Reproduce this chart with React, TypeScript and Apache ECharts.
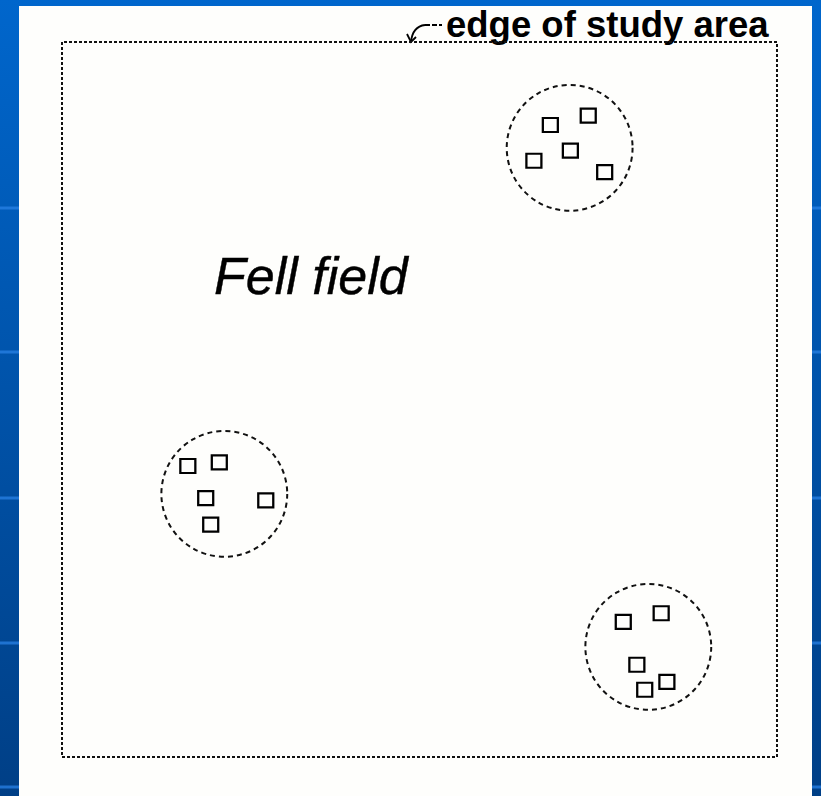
import React, { useEffect, useRef } from "react";
import * as echarts from "echarts";

// Study area is a 100 x 100 unit square
const studyAreaX = [0, 100, 100, 0, 0];
const studyAreaY = [0, 0, 100, 100, 0];

// Vegetation patches (circles)
const patchNames = ["NE patch", "W patch", "SE patch"];
const patchX = [71.0, 22.7, 82.0];
const patchY = [85.2, 36.8, 15.4];
const patchRadius = [8.8, 8.8, 8.8];

// Sample plots (squares)
const plotX = [68.3, 73.6, 71.1, 66.0, 75.9, 17.6, 22.0, 20.1, 28.5, 20.8, 78.5, 83.8, 80.4, 84.6, 81.5];
const plotY = [88.4, 89.7, 84.8, 83.4, 81.8, 40.7, 41.2, 36.2, 35.9, 32.5, 18.9, 20.1, 12.9, 10.5, 9.4];

const areaLabel = "Fell field";
const edgeLabel = "edge of study area";

export default function App() {
  const ref = useRef<HTMLDivElement>(null);

  useEffect(() => {
    if (!ref.current) return;
    const chart = echarts.init(ref.current, undefined, { renderer: "svg" });

    const stripeYs = [208, 352, 498, 643, 787];
    const stripes: any[] = [];
    stripeYs.forEach((y) => {
      stripes.push({ type: "rect", z: -9, shape: { x: 0, y: y - 1.5, width: 19, height: 3 }, style: { fill: "rgba(40,130,230,0.75)" } });
      stripes.push({ type: "rect", z: -9, shape: { x: 812, y: y - 1.5, width: 9, height: 3 }, style: { fill: "rgba(40,130,230,0.75)" } });
    });

    const option: any = {
      animation: false,
      backgroundColor: new echarts.graphic.LinearGradient(0, 0, 0, 1, [
        { offset: 0, color: "#0066cc" },
        { offset: 1, color: "#003f86" },
      ]),
      grid: { left: 62, top: 42, width: 715, height: 715 },
      xAxis: { type: "value", min: 0, max: 100, show: false },
      yAxis: { type: "value", min: 0, max: 100, show: false },
      graphic: [
        ...stripes,
        { type: "rect", z: -8, shape: { x: 19, y: 6, width: 793, height: 790 }, style: { fill: "#fefefc" } },
        {
          type: "text",
          x: 214,
          y: 276,
          style: {
            text: areaLabel,
            fontFamily: "Liberation Sans, Arial, sans-serif",
            fontStyle: "italic",
            fontSize: 52,
            fill: "#000",
            stroke: "#000",
            lineWidth: 0.4,
            verticalAlign: "middle",
            align: "left",
          },
        },
        {
          type: "text",
          x: 446,
          y: 24.5,
          style: {
            text: edgeLabel,
            fontFamily: "Liberation Sans, Arial, sans-serif",
            fontWeight: "bold",
            fontSize: 36.5,
            fill: "#000",
            verticalAlign: "middle",
            align: "left",
          },
        },
        {
          type: "line",
          shape: { x1: 425, y1: 25, x2: 442, y2: 25 },
          style: { stroke: "#000", lineWidth: 1.8, lineDash: [5, 2] },
        },
        {
          type: "bezierCurve",
          shape: { x1: 425, y1: 25, cpx1: 416, cpy1: 26, cpx2: 412, cpy2: 32, x2: 411, y2: 42 },
          style: { stroke: "#000", lineWidth: 1.8, fill: "none" },
        },
        {
          type: "polyline",
          shape: { points: [[407, 34], [411, 42], [416, 37]] },
          style: { stroke: "#000", lineWidth: 1.8, fill: "none" },
        },
      ],
      series: [
        {
          name: "edge of study area",
          type: "line",
          data: studyAreaX.map((x, i) => [x, studyAreaY[i]]),
          symbol: "none",
          clip: false,
          lineStyle: { color: "#111", width: 2, type: [3, 2] },
          z: 3,
        },
        {
          name: "patches",
          type: "custom",
          data: patchNames.map((n, i) => [patchX[i], patchY[i], patchRadius[i], n]),
          renderItem: (params: any, api: any) => {
            const c = api.coord([api.value(0), api.value(1)]);
            const s = api.size([api.value(2), api.value(2)]);
            return {
              type: "circle",
              shape: { cx: c[0], cy: c[1], r: s[0] },
              style: { fill: "none", stroke: "#111", lineWidth: 2, lineDash: [5, 4] },
            };
          },
          z: 3,
        },
        {
          name: "plots",
          type: "scatter",
          data: plotX.map((x, i) => [x, plotY[i]]),
          symbol: "rect",
          symbolSize: [15, 14],
          itemStyle: { color: "rgba(255,255,255,0)", borderColor: "#000", borderWidth: 2.2, opacity: 1 },
          z: 4,
        },
      ],
    };

    chart.setOption(option);
    return () => chart.dispose();
  }, []);

  return (
    <div
      ref={ref}
      style={{ position: "fixed", left: 0, top: 0, width: 821, height: 796 }}
    />
  );
}
